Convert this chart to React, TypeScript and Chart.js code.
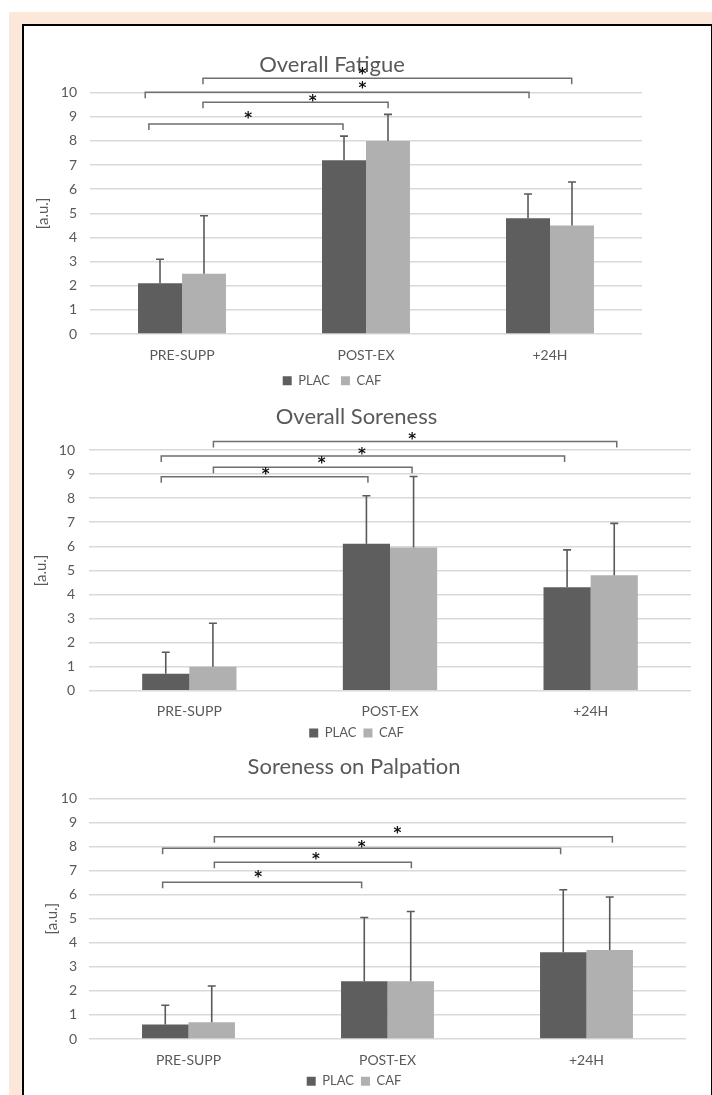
import React, { useEffect, useRef } from "react";
import { Chart, registerables } from "chart.js";

Chart.register(...registerables);

// ---------- data ----------
const categories = ["PRE-SUPP", "POST-EX", "+24H"];
const seriesNames = ["PLAC", "CAF"];
const yAxisLabel = "[a.u.]";
const yMin = 0;
const yMax = 10;
const yStep = 1;

const fatigueTitle = "Overall Fatigue";
const fatiguePlac = [2.1, 7.2, 4.8];
const fatigueCaf = [2.5, 8.0, 4.5];
const fatiguePlacSD = [1.0, 1.0, 1.0];
const fatigueCafSD = [2.4, 1.1, 1.8];
// [fromX, toX, y, starX, starY] in category-index / value units
const fatigueBrackets = [
  [-0.18, 0.875, 8.7, 0.36, 9.05],
  [0.114, 1.12, 9.6, 0.71, 9.75],
  [-0.2, 1.886, 10.02, 0.98, 10.26],
  [0.114, 2.118, 10.6, 0.98, 10.85],
];

const sorenessTitle = "Overall Soreness";
const sorenessPlac = [0.7, 6.1, 4.3];
const sorenessCaf = [1.0, 5.95, 4.8];
const sorenessPlacSD = [0.9, 2.0, 1.55];
const sorenessCafSD = [1.8, 2.95, 2.15];
const sorenessBrackets = [
  [-0.14, 0.89, 8.89, 0.38, 9.1],
  [0.12, 1.11, 9.28, 0.66, 9.54],
  [-0.14, 1.87, 9.75, 0.86, 9.93],
  [0.12, 2.13, 10.35, 1.11, 10.55],
];

const palpationTitle = "Soreness on Palpation";
const palpationPlac = [0.6, 2.4, 3.6];
const palpationCaf = [0.7, 2.4, 3.7];
const palpationPlacSD = [0.8, 2.65, 2.6];
const palpationCafSD = [1.5, 2.9, 2.2];
const palpationBrackets = [
  [-0.13, 0.87, 6.51, 0.35, 6.8],
  [0.13, 1.12, 7.34, 0.64, 7.57],
  [-0.13, 1.87, 7.92, 0.87, 8.06],
  [0.13, 2.13, 8.4, 1.05, 8.64],
];

// ---------- styles ----------
const FONT = "Lato, 'Open Sans', sans-serif";
const TEXT = "#595959";
const PLAC_COLOR = "#5e5e5e";
const CAF_COLOR = "#b0b0b0";

type Layout = {
  left: number; top: number; width: number; height: number;
  titleTop: number; titleBottom: number;
  yWidth: number; yTickPad: number; yTitlePad: number;
  xTickPad: number; xHeight: number; legendPad: number;
  padRight: number; padBottom: number;
  catPct: number;
};

const annotationPlugin = {
  id: "annot",
  afterDatasetsDraw(chart: any) {
    const opts = chart.options.plugins.annot;
    if (!opts) return;
    const { ctx } = chart;
    const ys = chart.scales.y;
    const xs = chart.scales.x;
    ctx.save();
    // error bars
    ctx.strokeStyle = "#5a5a5a";
    ctx.lineWidth = 1.6;
    opts.sds.forEach((sd: number[], di: number) => {
      const meta = chart.getDatasetMeta(di);
      const vals = chart.data.datasets[di].data;
      meta.data.forEach((bar: any, i: number) => {
        const x = bar.x;
        const y0 = ys.getPixelForValue(vals[i]);
        const y1 = ys.getPixelForValue(vals[i] + sd[i]);
        ctx.beginPath();
        ctx.moveTo(x, y0);
        ctx.lineTo(x, y1);
        ctx.moveTo(x - 4, y1);
        ctx.lineTo(x + 4, y1);
        ctx.stroke();
      });
    });
    // significance brackets
    ctx.strokeStyle = "#6e6e6e";
    ctx.lineWidth = 1.5;
    opts.brackets.forEach((b: number[]) => {
      const xa = xs.getPixelForValue(b[0]);
      const xb = xs.getPixelForValue(b[1]);
      const y = ys.getPixelForValue(b[2]);
      ctx.beginPath();
      ctx.moveTo(xa, y + 6);
      ctx.lineTo(xa, y);
      ctx.lineTo(xb, y);
      ctx.lineTo(xb, y + 6);
      ctx.stroke();
    });
    ctx.fillStyle = "#111111";
    ctx.font = "bold 15px 'DejaVu Sans', sans-serif";
    ctx.textAlign = "center";
    ctx.textBaseline = "middle";
    opts.brackets.forEach((b: number[]) => {
      const sx = xs.getPixelForValue(b[3]);
      const sy = ys.getPixelForValue(b[4]);
      ctx.fillText("*", sx, sy + 3);
    });
    ctx.restore();
  },
};

function Panel(props: {
  title: string; plac: number[]; caf: number[]; placSD: number[]; cafSD: number[];
  brackets: number[][]; L: Layout;
}) {
  const ref = useRef<HTMLCanvasElement>(null);
  const { L } = props;
  useEffect(() => {
    const chart = new Chart(ref.current as HTMLCanvasElement, {
      type: "bar",
      data: {
        labels: categories,
        datasets: [
          { label: seriesNames[0], data: props.plac, backgroundColor: PLAC_COLOR, borderWidth: 0 },
          { label: seriesNames[1], data: props.caf, backgroundColor: CAF_COLOR, borderWidth: 0 },
        ],
      },
      options: {
        animation: false,
        responsive: false,
        maintainAspectRatio: false,
        devicePixelRatio: 1,
        datasets: { bar: { categoryPercentage: L.catPct, barPercentage: 1 } },
        layout: { padding: { left: 0, top: 0, right: L.padRight, bottom: L.padBottom } },
        scales: {
          x: {
            grid: { display: false, drawTicks: false },
            border: { display: false },
            ticks: { color: TEXT, font: { family: FONT, size: 14, lineHeight: 1.1 }, padding: L.xTickPad, maxRotation: 0 },
            afterFit: (s: any) => { s.height = L.xHeight; },
          },
          y: {
            min: yMin,
            max: yMax,
            ticks: { stepSize: yStep, color: TEXT, font: { family: FONT, size: 14 }, padding: L.yTickPad },
            grid: { color: "#d9d9d9", lineWidth: 1.5, drawTicks: false },
            border: { display: false },
            title: { display: true, text: yAxisLabel, color: TEXT, font: { family: FONT, size: 15 }, padding: { top: L.yTitlePad, bottom: 0 } },
            afterFit: (s: any) => { s.width = L.yWidth; },
          },
        },
        plugins: {
          title: {
            display: true,
            text: props.title,
            color: TEXT,
            font: { family: FONT, size: 22, weight: "normal" },
            padding: { top: L.titleTop, bottom: L.titleBottom },
          },
          legend: {
            position: "bottom",
            labels: { boxWidth: 9, boxHeight: 9, color: TEXT, font: { family: FONT, size: 13 }, padding: L.legendPad },
          },
          tooltip: { enabled: false },
          annot: { sds: [props.placSD, props.cafSD], brackets: props.brackets },
        } as any,
      },
      plugins: [annotationPlugin],
    } as any);
    return () => chart.destroy();
  }, []);
  return (
    <canvas
      ref={ref}
      width={L.width}
      height={L.height}
      style={{ position: "absolute", left: L.left, top: L.top, width: L.width, height: L.height }}
    />
  );
}

const L1: Layout = {
  left: 22, top: 30, width: 627, height: 370,
  titleTop: 21.5, titleBottom: 14.8,
  yWidth: 68, yTickPad: 13, yTitlePad: 12,
  xTickPad: 13.8, xHeight: 29.2, legendPad: 11, padRight: 7, padBottom: 2.8, catPct: 0.478,
};
const L2: Layout = {
  left: 22, top: 400, width: 674, height: 350,
  titleTop: 3.5, titleBottom: 20.1,
  yWidth: 67, yTickPad: 14, yTitlePad: 10,
  xTickPad: 13.3, xHeight: 28.7, legendPad: 7, padRight: 5, padBottom: 0.6, catPct: 0.47,
};
const L3: Layout = {
  left: 22, top: 750, width: 677, height: 348,
  titleTop: 3.5, titleBottom: 18.4,
  yWidth: 67, yTickPad: 12, yTitlePad: 21,
  xTickPad: 13.3, xHeight: 28.7, legendPad: 7, padRight: 13, padBottom: 0.3, catPct: 0.467,
};

export default function App() {
  return (
    <div style={{ position: "fixed", left: 0, top: 0, width: 712, height: 1095, overflow: "hidden", background: "#ffffff" }}>
      <div style={{ position: "absolute", left: 9, top: 12, right: 0, bottom: 0, background: "#fce8da" }} />
      <div
        style={{
          position: "absolute", left: 22, top: 24, width: 687, height: 1080,
          background: "#ffffff", borderLeft: "2px solid #000", borderTop: "2px solid #000", borderRight: "3px solid #000",
        }}
      />
      <Panel title={fatigueTitle} plac={fatiguePlac} caf={fatigueCaf} placSD={fatiguePlacSD} cafSD={fatigueCafSD} brackets={fatigueBrackets} L={L1} />
      <Panel title={sorenessTitle} plac={sorenessPlac} caf={sorenessCaf} placSD={sorenessPlacSD} cafSD={sorenessCafSD} brackets={sorenessBrackets} L={L2} />
      <Panel title={palpationTitle} plac={palpationPlac} caf={palpationCaf} placSD={palpationPlacSD} cafSD={palpationCafSD} brackets={palpationBrackets} L={L3} />
    </div>
  );
}
